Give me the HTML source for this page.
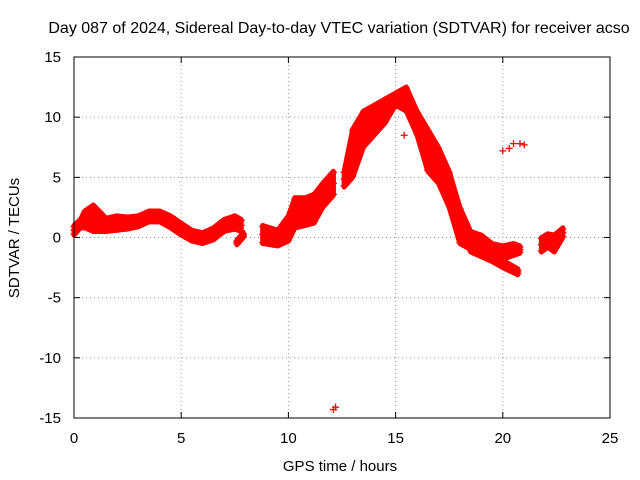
<!DOCTYPE html>
<html><head><meta charset="utf-8">
<style>
body{margin:0;background:#fff;}
svg{display:block;font-family:"Liberation Sans",sans-serif;}
</style></head>
<body>
<svg id="chart" width="640" height="480">
<text x="339" y="33" font-size="16" text-anchor="middle">Day 087 of 2024, Sidereal Day-to-day VTEC variation (SDTVAR) for receiver acso</text>
<text x="340" y="471" font-size="15" text-anchor="middle">GPS time / hours</text>
<text transform="translate(19,238) rotate(-90)" font-size="15" text-anchor="middle">SDTVAR / TECUs</text>
<g id="grid"></g>
<g id="marks"></g>
<rect x="74" y="57" width="536" height="361" fill="none" stroke="#000" stroke-width="1"/>
</svg>
<script>
const xTicks=[0,5,10,15,20,25];
const yTicks=[-15,-10,-5,0,5,10,15];
// band series: hours, low, high
const s1Hours=[0,0.3,0.5,0.9,1.5,2,2.5,3,3.5,4,4.5,5,5.5,6,6.5,7,7.5,7.8];
const s1Low=[0.2,0.8,0.8,0.5,0.5,0.6,0.7,0.9,1.3,1.3,0.8,0.2,-0.3,-0.5,-0.2,0.5,0.7,0.5];
const s1High=[1,1.5,2.2,2.7,1.6,1.8,1.7,1.8,2.2,2.2,1.8,1.2,0.6,0.4,0.8,1.5,1.8,1.5];
const s2Hours=[8.8,9.5,10,10.3,10.8,11.2,11.6,12.1];
const s2Low=[-0.5,-0.7,-0.3,0.8,1,1.2,2.5,3.5];
const s2High=[1,0.6,1.8,3.3,3.3,3.6,4.5,5.5];
const s3Hours=[12.6,13,13.5,14,14.5,15,15.5,16,16.5,17,17.5,18,18.5,19,19.5,20,20.5,20.8];
const s3Low=[4.2,5,7.5,8.5,9.5,11,10.5,8.5,5.5,4.5,2.5,-0.5,-1,-1.2,-1.5,-1.8,-1.5,-1.3];
const s3High=[5.5,9,10.5,11,11.5,12,12.5,10.5,9,7.5,5.5,2.5,0.5,0.2,-0.5,-0.7,-0.5,-0.7];
const s4Hours=[18.5,19,19.5,20,20.7];
const s4Low=[-1.2,-1.6,-2,-2.5,-3.1];
const s4High=[-0.6,-1.0,-1.4,-1.9,-2.6];
const s5Hours=[21.8,22.1,22.4,22.8];
const s5Low=[-1.2,-0.8,-1.2,0];
const s5High=[0,0.3,0.2,0.8];
const s6Hours=[7.6,7.9];
const s6Low=[-0.6,0];
const s6High=[-0.2,0.4];
// isolated points
const ptHours=[15.4,20,20.3,20.5,20.8,21,12.1,12.2];
const ptValues=[8.5,7.2,7.4,7.8,7.8,7.7,-14.3,-14.1];

const X0=74,X1=610,Y0=418,Y1=57;
const xs=v=>X0+(v-0)/(25-0)*(X1-X0);
const ys=v=>Y0-(v+15)/30*(Y0-Y1);
const NS='http://www.w3.org/2000/svg';
const grid=document.getElementById('grid'),marks=document.getElementById('marks');
function mk(t,a,p){const e=document.createElementNS(NS,t);for(const k in a)e.setAttribute(k,a[k]);p.appendChild(e);return e;}
xTicks.forEach(t=>{
  const x=xs(t);
  if(t>0&&t<25){const l=mk('line',{x1:x,x2:x,y1:Y0,y2:Y1,stroke:'#999','stroke-dasharray':'1,3'},grid);
  
  }
  mk('line',{x1:x,x2:x,y1:Y0,y2:Y0-6,stroke:'#000'},grid);
  mk('line',{x1:x,x2:x,y1:Y1,y2:Y1+6,stroke:'#000'},grid);
  const tx=mk('text',{x:x,y:Y0+25,'font-size':15,'text-anchor':'middle'},grid);tx.textContent=t;
  
  
});
yTicks.forEach(t=>{
  const y=ys(t);
  if(t>-15&&t<15){const l=mk('line',{x1:X0,x2:X1,y1:y,y2:y,stroke:'#999','stroke-dasharray':'1,3'},grid);
  
  }
  mk('line',{x1:X0,x2:X0+6,y1:y,y2:y,stroke:'#000'},grid);
  mk('line',{x1:X1,x2:X1-6,y1:y,y2:y,stroke:'#000'},grid);
  const tx=mk('text',{x:X0-13,y:y+5,'font-size':15,'text-anchor':'end'},grid);tx.textContent=t;
  
  
});
function plus(x,y){
  const p=mk('path',{d:`M${x-3.5},${y}h7M${x},${y-3.5}v7`,stroke:'#f00','stroke-width':1.3},marks);
  
  
}
function band(h,lo,hi,name){
  let pts=h.map((v,i)=>xs(v)+','+ys(hi[i]));
  for(let i=h.length-1;i>=0;i--)pts.push(xs(h[i])+','+ys(lo[i]));
  const p=mk('polygon',{points:pts.join(' '),fill:'#f00',stroke:'#f00','stroke-width':5,'stroke-linejoin':'round'},marks);
  
  
  h.forEach((v,i)=>{plus(xs(v),ys(lo[i])-1);plus(xs(v),ys(hi[i])+1);plus(xs(v),ys((lo[i]+hi[i])/2));});
}
band(s1Hours,s1Low,s1High,'sdtvar-band-early');
band(s2Hours,s2Low,s2High,'sdtvar-band-rise');
band(s3Hours,s3Low,s3High,'sdtvar-band-peak');
band(s4Hours,s4Low,s4High,'sdtvar-band-tail');
band(s5Hours,s5Low,s5High,'sdtvar-band-late');
band(s6Hours,s6Low,s6High,'sdtvar-band-dip');
ptHours.forEach((h,i)=>plus(xs(h),ys(ptValues[i])));
</script>
</body></html>
